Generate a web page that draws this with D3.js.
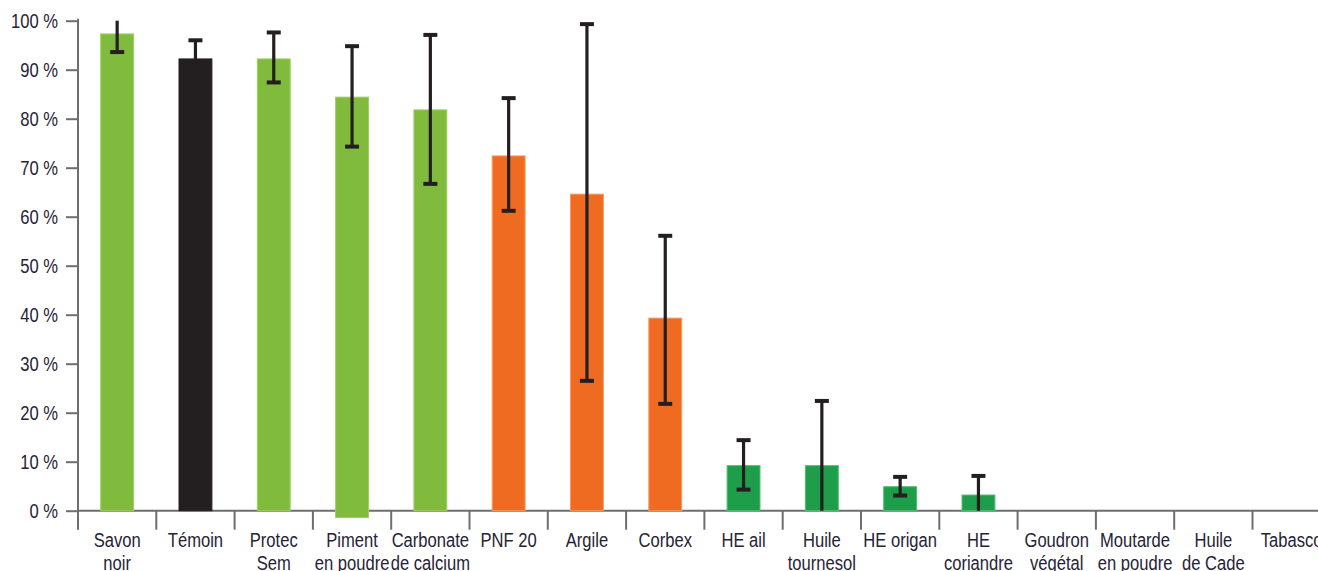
<!DOCTYPE html>
<html>
<head>
<meta charset="utf-8">
<script src="https://cdn.jsdelivr.net/npm/d3@7.9.0/dist/d3.min.js"></script>
<style>
  body { margin: 0; background: #fff; }
  svg { display: block; font-family: "Liberation Sans", Arial, sans-serif; }
</style>
</head>
<body>
<svg id="chart" width="1318" height="571"></svg>
<script>
// --- DATA ---
const categories = [
  "Savon\nnoir", "Témoin", "Protec\nSem", "Piment\nen poudre", "Carbonate\nde calcium",
  "PNF 20", "Argile", "Corbex", "HE ail", "Huile\ntournesol", "HE origan",
  "HE\ncoriandre", "Goudron\nvégétal", "Moutarde\nen poudre", "Huile\nde Cade", "Tabasco"
];
const values   = [97.3, 92.2, 92.2, 84.4, 81.8, 72.4, 64.6, 39.3, 9.2, 9.2, 4.9, 3.2, 0, 0, 0, 0];
const barBase  = [0, 0, 0, -1.4, 0, 0, 0, 0, 0, 0, 0, 0, 0, 0, 0, 0];
const errHigh  = [100, 96.0, 97.6, 94.8, 97.1, 84.2, 99.3, 56.1, 14.4, 22.4, 6.9, 7.1, null, null, null, null];
const errLow   = [93.6, 88.4, 87.4, 74.3, 66.7, 61.2, 26.5, 21.8, 4.3, 0, 3.1, 0, null, null, null, null];
const groups   = ["vert", "temoin", "vert", "vert", "vert", "orange", "orange", "orange",
                  "foncé", "foncé", "foncé", "foncé", "foncé", "foncé", "foncé", "foncé"];
const yTicks   = [0, 10, 20, 30, 40, 50, 60, 70, 80, 90, 100];

const fillColor = { vert: "#80bb3d", temoin: "#231f20", orange: "#f06b22", "foncé": "#1e9e4b" };
const edgeColor = { vert: "#9fd060", temoin: "#231f20", orange: "#f7995f", "foncé": "#4fc06f" };

const svg = d3.select("#chart");
const left = 78, bandW = 78.3;
const y0 = 510.7, y100 = 20.7;
const axisColor = "#6d6e71", textColor = "#262335";
const narrow = 0.79; // no condensed font installed, squeeze horizontally
const fontSize = 21;

const x = d3.scaleBand()
  .domain(d3.range(categories.length))
  .range([left, left + bandW * categories.length])
  .padding(0);
const y = d3.scaleLinear().domain([0, 100]).range([y0, y100]);
const barW = x.bandwidth() * 0.42;

// --- AXES ---
const yAxis = svg.append("g")
  .attr("transform", `translate(${left},0)`)
  .call(d3.axisLeft(y).tickValues(yTicks).tickSize(12).tickPadding(8).tickFormat(d => d + " %"));
yAxis.select(".domain").remove();
yAxis.selectAll(".tick line").attr("stroke", axisColor).attr("stroke-width", 2);
yAxis.selectAll(".tick text")
  .attr("fill", textColor).attr("font-size", fontSize)
  .attr("font-family", "Liberation Sans, Arial, sans-serif")
  .attr("x", 0)
  .attr("transform", `translate(-20,0) scale(${narrow},1)`);

// vertical axis line (extends below zero like a separator)
svg.append("line")
  .attr("x1", left).attr("x2", left)
  .attr("y1", y(100) - 2).attr("y2", y(0) + 19)
  .attr("stroke", axisColor).attr("stroke-width", 2);

// baseline
svg.append("line")
  .attr("x1", left).attr("x2", 1318)
  .attr("y1", y(0)).attr("y2", y(0))
  .attr("stroke", axisColor).attr("stroke-width", 2);

// category separators
svg.append("g").selectAll("line")
  .data(d3.range(1, categories.length))
  .join("line")
  .attr("x1", i => x(i)).attr("x2", i => x(i))
  .attr("y1", y(0)).attr("y2", y(0) + 19)
  .attr("stroke", axisColor).attr("stroke-width", 2);

// --- BARS ---
svg.append("g").selectAll("rect")
  .data(values.map((v, i) => ({ v, i })).filter(d => d.v > 0))
  .join("rect")
  .attr("x", d => x(d.i) + (x.bandwidth() - barW) / 2)
  .attr("y", d => y(d.v))
  .attr("width", barW)
  .attr("height", d => y(barBase[d.i]) - y(d.v))
  .attr("fill", d => fillColor[groups[d.i]])
  .attr("stroke", d => edgeColor[groups[d.i]])
  .attr("stroke-width", 1);

// --- ERROR BARS ---
const errData = errHigh.map((h, i) => ({ i, h, l: errLow[i] })).filter(d => d.h !== null);
const eb = svg.append("g").attr("stroke", "#231f20");
const cx = d => x(d.i) + x.bandwidth() / 2;
eb.selectAll("line.stem")
  .data(errData).join("line").attr("class", "stem")
  .attr("x1", cx).attr("x2", cx)
  .attr("y1", d => y(d.h)).attr("y2", d => y(d.l))
  .attr("stroke-width", 3.2);
eb.selectAll("line.capTop")
  .data(errData.filter(d => d.h < 99.5)).join("line").attr("class", "capTop")
  .attr("x1", d => cx(d) - 7).attr("x2", d => cx(d) + 7)
  .attr("y1", d => y(d.h)).attr("y2", d => y(d.h))
  .attr("stroke-width", 4);
eb.selectAll("line.capBot")
  .data(errData.filter(d => d.l > 0.5)).join("line").attr("class", "capBot")
  .attr("x1", d => cx(d) - 7).attr("x2", d => cx(d) + 7)
  .attr("y1", d => y(d.l)).attr("y2", d => y(d.l))
  .attr("stroke-width", 4);

// --- CATEGORY LABELS ---
const labels = svg.append("g")
  .attr("font-size", fontSize).attr("fill", textColor).attr("text-anchor", "middle");
categories.forEach((c, i) => {
  const t = labels.append("text")
    .attr("transform", `translate(${x(i) + x.bandwidth() / 2},546.5) scale(${narrow},1)`);
  c.split("\n").forEach((line, k) => {
    t.append("tspan")
      .attr("x", 0)
      .attr("dy", k === 0 ? 0 : 23.5)
      .text(line);
  });
});
</script>
</body>
</html>
